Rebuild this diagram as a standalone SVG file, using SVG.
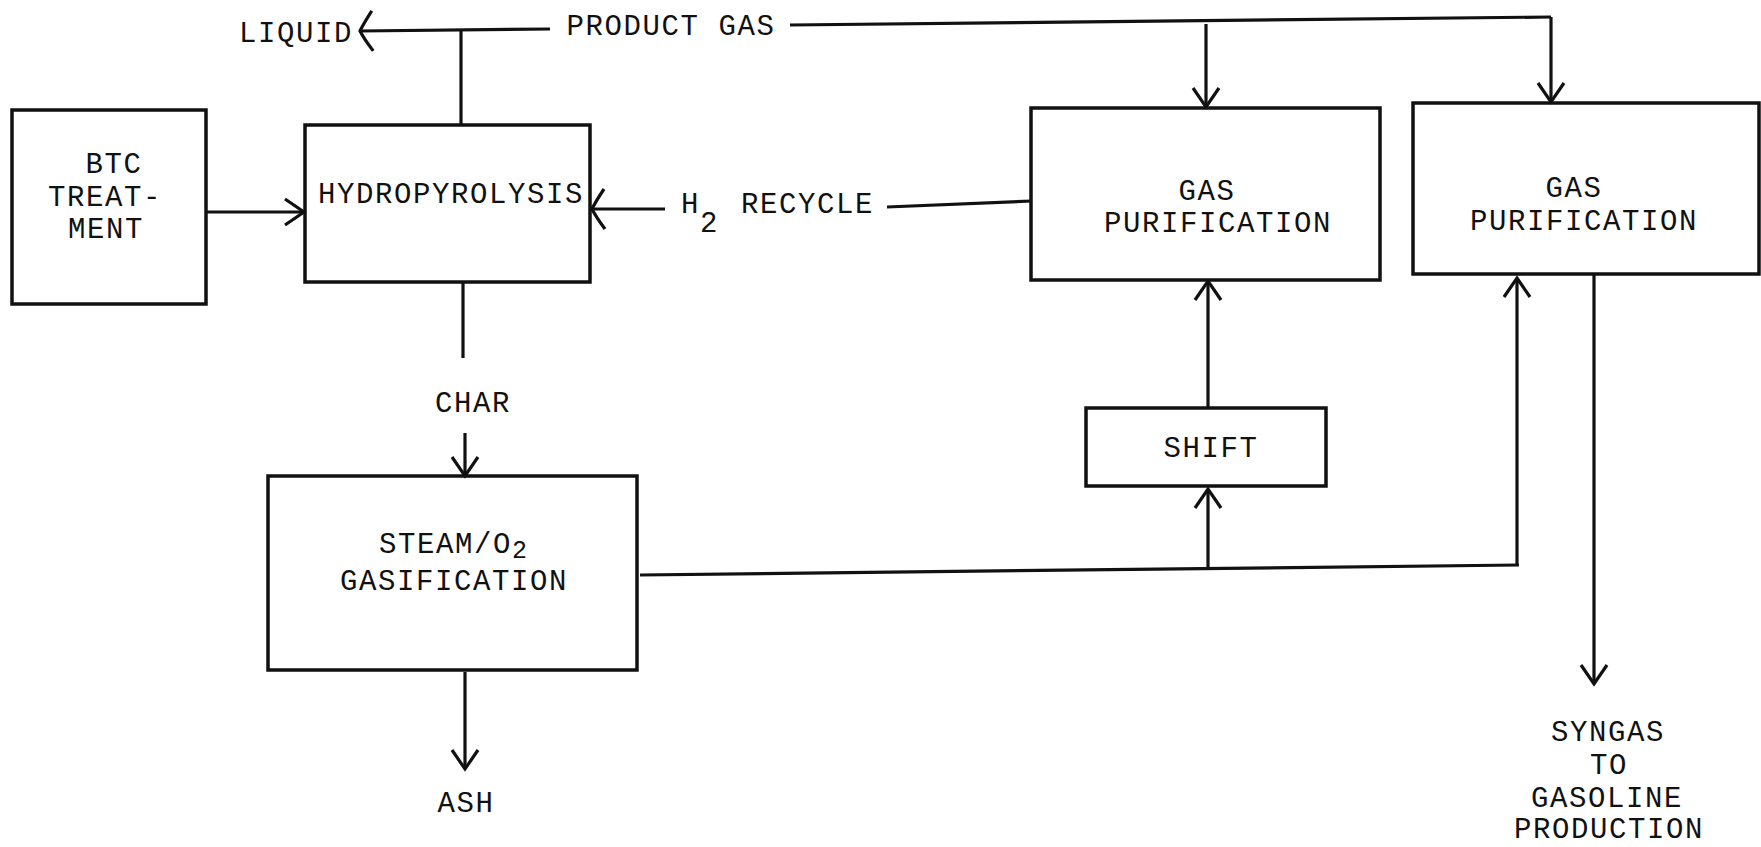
<svg xmlns="http://www.w3.org/2000/svg" width="1761" height="847" viewBox="0 0 1761 847">
<style>
.box{fill:none;stroke:#111;stroke-width:3.5}
.ln{fill:none;stroke:#111;stroke-width:3.2}
.t{font-family:"Liberation Mono","Courier New",monospace;font-size:29px;letter-spacing:1.6px;fill:#111;text-anchor:middle}
.ts{font-family:"Liberation Mono","Courier New",monospace;font-size:29px;letter-spacing:1.6px;fill:#111}
.sub{font-size:25px}
</style>
<defs>
<marker id="arr" markerUnits="userSpaceOnUse" viewBox="-24 -16 28 32" refX="0" refY="0" markerWidth="28" markerHeight="32" orient="auto">
<path d="M-19,-13 L0,0 L-19,13" fill="none" stroke="#111" stroke-width="3.2"/>
</marker>
<marker id="arrw" markerUnits="userSpaceOnUse" viewBox="-18 -22 22 44" refX="0" refY="0" markerWidth="22" markerHeight="44" orient="auto">
<path d="M-13,-20 Q-4,-8 0,0 Q-4,8 -12,20" fill="none" stroke="#111" stroke-width="3.2"/>
</marker>
</defs>
<rect width="1761" height="847" fill="#fff"/>
<g id="connectors">
<path class="ln" d="M550,29 L360,31" marker-end="url(#arrw)"/>
<path class="ln" d="M461,125 L461,30"/>
<path class="ln" d="M790,25 L1551,17"/>
<path class="ln" d="M1206,24 L1206,107" marker-end="url(#arr)"/>
<path class="ln" d="M1551,17 L1551,102" marker-end="url(#arr)"/>
<path class="ln" d="M206,212 L304,212" marker-end="url(#arr)"/>
<path class="ln" d="M1032,201 L887,207"/>
<path class="ln" d="M665,209 L592,209" marker-end="url(#arrw)"/>
<path class="ln" d="M463,283 L463,358"/>
<path class="ln" d="M465,433 L465,476" marker-end="url(#arr)"/>
<path class="ln" d="M465,672 L465,769" marker-end="url(#arr)"/>
<path class="ln" d="M640,575 L1519,565"/>
<path class="ln" d="M1208,570 L1208,489" marker-end="url(#arr)"/>
<path class="ln" d="M1517,565 L1517,278" marker-end="url(#arr)"/>
<path class="ln" d="M1208,408 L1208,281" marker-end="url(#arr)"/>
<path class="ln" d="M1594,274 L1594,684" marker-end="url(#arr)"/>
</g>
<g id="btc-treatment">
<rect class="box" x="12" y="110" width="194" height="194"/>
<text class="t" x="114" y="173">BTC</text>
<text class="t" x="105" y="206">TREAT-</text>
<text class="t" x="106" y="238">MENT</text>
</g>
<g id="hydropyrolysis">
<rect class="box" x="305" y="125" width="285" height="157"/>
<text class="t" x="451" y="203">HYDROPYROLYSIS</text>
</g>
<g id="gas-purification-1">
<rect class="box" x="1031" y="108" width="349" height="172"/>
<text class="t" x="1207" y="200">GAS</text>
<text class="t" x="1218" y="232">PURIFICATION</text>
</g>
<g id="gas-purification-2">
<rect class="box" x="1413" y="103" width="346" height="171"/>
<text class="t" x="1574" y="197">GAS</text>
<text class="t" x="1584" y="230">PURIFICATION</text>
</g>
<g id="steam-gasification">
<rect class="box" x="268" y="476" width="369" height="194"/>
<text class="ts" x="379" y="553">STEAM/O<tspan class="sub" dy="5">2</tspan></text>
<text class="t" x="454" y="590">GASIFICATION</text>
</g>
<g id="shift">
<rect class="box" x="1086" y="408" width="240" height="78"/>
<text class="t" x="1211" y="457">SHIFT</text>
</g>
<g id="labels">
<text class="t" x="296" y="42">LIQUID</text>
<text class="t" x="671" y="35">PRODUCT GAS</text>
<text class="ts" x="681" y="213">H<tspan dy="19">2</tspan><tspan dy="-19" x="741">RECYCLE</tspan></text>
<text class="t" x="473" y="412">CHAR</text>
<text class="t" x="466" y="812">ASH</text>
<text class="t" x="1608" y="741">SYNGAS</text>
<text class="t" x="1609" y="774">TO</text>
<text class="t" x="1607" y="807">GASOLINE</text>
<text class="t" x="1609" y="838">PRODUCTION</text>
</g>
</svg>
